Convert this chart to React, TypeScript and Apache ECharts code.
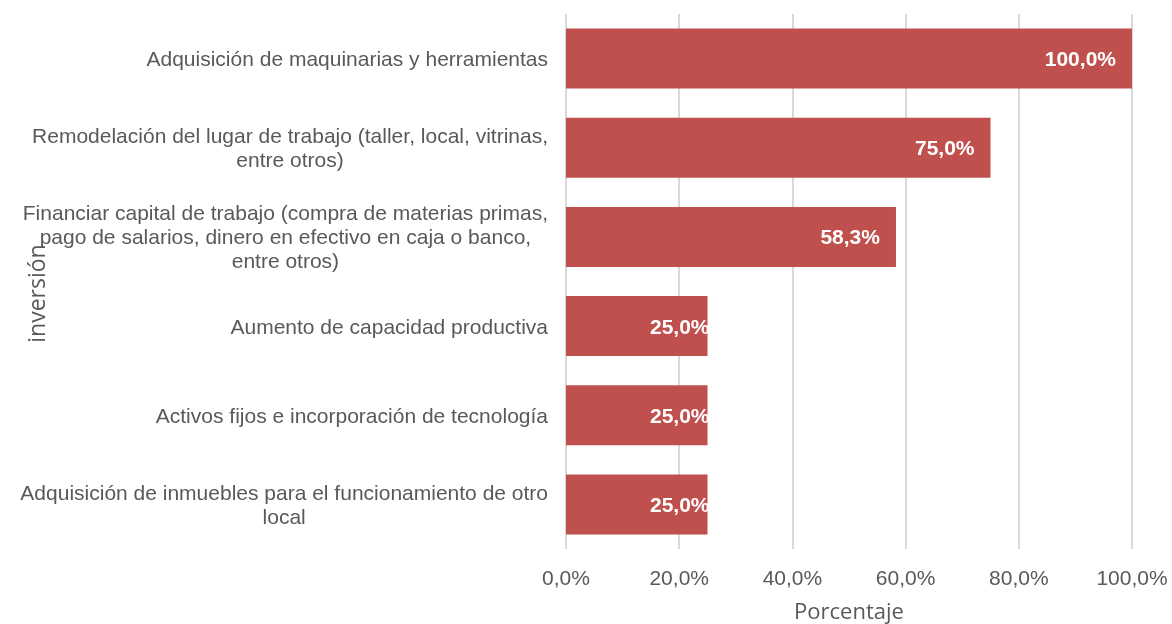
import React, { useEffect, useRef } from "react";
import * as echarts from "echarts";

const categories = [
  "Adquisición de maquinarias y herramientas",
  "Remodelación del lugar de trabajo (taller, local, vitrinas,\nentre otros)",
  "Financiar capital de trabajo (compra de materias primas,\npago de salarios, dinero en efectivo en caja o banco,\nentre otros)",
  "Aumento de capacidad productiva",
  "Activos fijos e incorporación de tecnología",
  "Adquisición de inmuebles para el funcionamiento de otro\nlocal",
];
const values = [100, 75, 58.3, 25, 25, 25];
const xMin = 0;
const xMax = 100;
const xStep = 20;
const xName = "Porcentaje";
const yName = "inversión";

const fmt = (v: number) => v.toFixed(1).replace(".", ",") + "%";

export default function App() {
  const ref = useRef<HTMLDivElement>(null);
  useEffect(() => {
    const chart = echarts.init(ref.current!, null, { renderer: "svg" });
    const gray = "#595959";
    const sans = "'Liberation Sans', Arial, sans-serif";
    chart.setOption({
      animation: false,
      grid: {
        left: 566,
        right: 40,
        top: 14,
        bottom: 75,
        containLabel: false,
        outerBoundsMode: "none",
      },
      xAxis: {
        type: "value",
        min: xMin,
        max: xMax,
        interval: xStep,
        name: xName,
        nameLocation: "middle",
        nameGap: 50,
        nameMoveOverlap: false,
        nameTextStyle: { fontFamily: "'Open Sans', sans-serif", fontSize: 22, color: gray },
        axisLine: { show: false },
        axisTick: { show: false },
        axisLabel: { formatter: fmt, fontFamily: sans, fontSize: 21, color: gray, margin: 18 },
        splitLine: { show: true, lineStyle: { color: "#d9d9d9", width: 2 } },
      },
      yAxis: {
        type: "category",
        inverse: true,
        data: categories,
        name: yName,
        nameLocation: "middle",
        nameGap: 519,
        nameRotate: 90,
        nameMoveOverlap: false,
        nameTextStyle: {
          fontFamily: "'Open Sans', sans-serif",
          fontSize: 23,
          color: gray,
          padding: [0, 24, 0, 0],
        },
        axisLine: { show: false },
        axisTick: { show: false },
        axisLabel: {
          margin: 18,
          formatter: (v: string) => v.split("\n").map((l) => `{c|${l}}`).join("\n"),
          rich: {
            c: { align: "center", fontFamily: sans, fontSize: 21, color: gray, lineHeight: 24 },
          },
        },
      },
      series: [
        {
          type: "bar",
          barWidth: 60,
          itemStyle: { color: "#c0504d" },
          label: {
            show: true,
            position: "insideRight",
            distance: 16,
            formatter: (p: any) => fmt(p.value),
            color: "#ffffff",
            fontFamily: sans,
            fontWeight: "bold",
            fontSize: 21,
          },
          data: values.map((v) =>
            v < 30 ? { value: v, label: { offset: [18, 0] } } : { value: v }
          ),
        },
      ],
    });
    return () => chart.dispose();
  }, []);
  return (
    <div
      ref={ref}
      style={{ position: "fixed", left: 0, top: 0, width: 1172, height: 624 }}
    />
  );
}
